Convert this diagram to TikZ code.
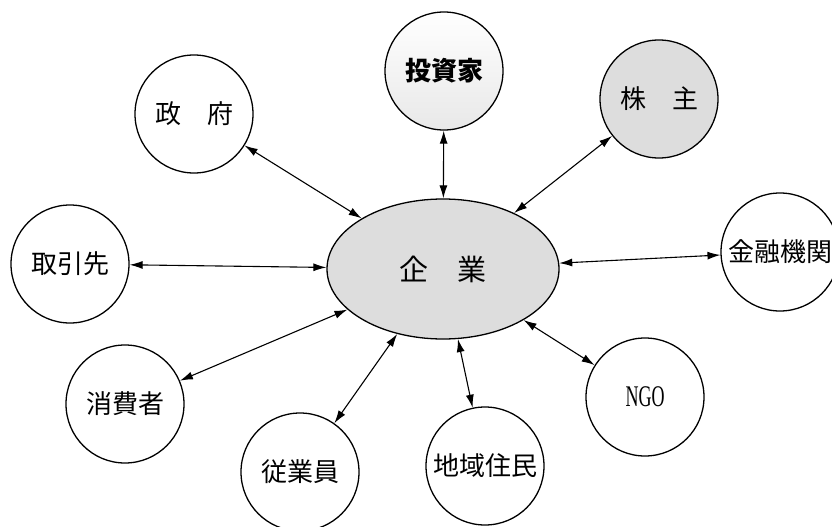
\documentclass[tikz,border=0pt]{standalone}
\usepackage{fontspec}
\usepackage{graphicx}
\setmainfont{Liberation Serif}
\newfontfamily\cjk{Noto Sans CJK JP}
\usetikzlibrary{shapes.geometric,arrows.meta}
\begin{document}
\begin{tikzpicture}[x=1pt,y=-1pt,
  party/.style={circle,draw,line width=1.3pt,minimum size=118pt,inner sep=0pt,
    font=\cjk\fontsize{26}{30}\selectfont},
  link/.style={{Latex[length=13pt,width=8pt]}-{Latex[length=13pt,width=8pt]},line width=1.1pt},
  stipple/.style={fill=gray!27}]
\useasboundingbox (0,0) rectangle (832,527);
\node[ellipse,draw,line width=1.3pt,stipple,minimum width=232pt,minimum height=140pt,
  inner sep=0pt,font=\cjk\fontsize{29}{32}\selectfont] (corp) at (443,269) {企\hspace{30pt}業};
\node[party] (gov) at (194,114) {政\hspace{1em}府};
\node[party,top color=white,middle color=white,bottom color=gray!18,
  font=\cjk\bfseries\fontsize{26}{30}\selectfont] (inv) at (444,71) {投資家};
\node[party,stipple] (share) at (659,99) {株\hspace{1em}主};
\node[party] (trade) at (70,264) {取引先};
\node[party] (fin) at (780,252) {金融機関};
\node[party] (cons) at (125,404) {消費者};
\node[party] (emp) at (300,472) {従業員};
\node[party] (local) at (485,466) {地域住民};
\node[party,font=\fontsize{30}{32}\selectfont] (ngo) at (645,397) {\scalebox{0.6}[1]{NGO}};
\foreach \n in {gov,inv,share,trade,fin,cons,emp,local,ngo}
  \draw[link] (\n) -- (corp);
\end{tikzpicture}
\end{document}
